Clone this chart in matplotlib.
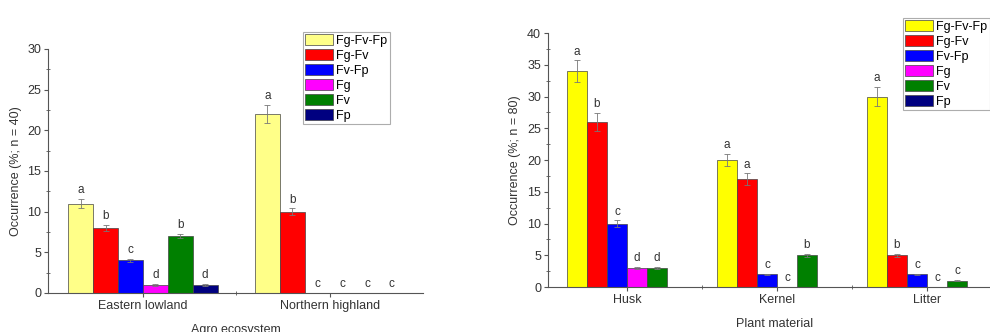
import matplotlib
matplotlib.use("Agg")
import matplotlib.pyplot as plt
import numpy as np
from matplotlib.ticker import MultipleLocator, FixedLocator

plt.rcParams['font.family'] = ['Liberation Sans', 'DejaVu Sans']

series = ['Fg-Fv-Fp', 'Fg-Fv', 'Fv-Fp', 'Fg', 'Fv', 'Fp']

# left panel: agro ecosystem (n = 40)
eco_groups = ['Eastern lowland', 'Northern highland']
eco_vals = [[11, 22], [8, 10], [4, 0], [1, 0], [7, 0], [1, 0]]
eco_err = [[0.6, 1.1], [0.4, 0.4], [0.15, 0], [0.1, 0], [0.3, 0], [0.1, 0]]
eco_letters = [['a', 'a'], ['b', 'b'], ['c', 'c'], ['d', 'c'], ['b', 'c'], ['d', 'c']]
eco_colors = ['#FFFF88', '#FF0000', '#0000FF', '#FF00FF', '#008000', '#000080']

# right panel: plant material (n = 80)
mat_groups = ['Husk', 'Kernel', 'Litter']
mat_vals = [[34, 20, 30], [26, 17, 5], [10, 2, 2], [3, 0, 0], [3, 5, 1], [0, 0, 0]]
mat_err = [[1.7, 1.0, 1.5], [1.4, 0.9, 0.2], [0.5, 0.1, 0.1], [0.2, 0, 0], [0.2, 0.2, 0.1], [0, 0, 0]]
mat_letters = [['a', 'a', 'a'], ['b', 'a', 'b'], ['c', 'c', 'c'], ['d', 'c', 'c'], ['d', 'b', 'c'], ['', '', '']]
mat_colors = ['#FFFF00', '#FF0000', '#0000FF', '#FF00FF', '#008000', '#000080']

FS = 9

fig = plt.figure(figsize=(9.9, 3.32), dpi=100)
ax1 = fig.add_axes([0.0485, 0.1175, 0.3788, 0.735])
ax2 = fig.add_axes([0.5535, 0.1355, 0.4586, 0.765])


def grouped(ax, groups, vals, errs, letters, colors, ymax, ylabel, xlabel):
    n = len(vals)
    x = np.arange(len(groups))
    w = 0.8 / n
    for i in range(n):
        pos = x + (i - (n - 1) / 2) * w
        ax.bar(pos, vals[i], w, color=colors[i], edgecolor='#444444', linewidth=0.5,
               label=series[i], zorder=2)
        v = np.array(vals[i])
        e = np.array(errs[i])
        m = e > 0
        ax.errorbar(pos[m], v[m], yerr=e[m], fmt='none', ecolor='#777777',
                    elinewidth=0.6, capsize=2, capthick=0.6, zorder=3)
        for p, val, er, lt in zip(pos, v, e, letters[i]):
            ax.annotate(lt, (p, val + er), xytext=(0, 2), textcoords='offset points',
                        ha='center', va='bottom', fontsize=FS - 0.5, color='#333333')
    ax.set_ylim(0, ymax)
    ax.set_xticks(x)
    ax.set_xticklabels(groups, fontsize=FS, color='#333333')
    ax.xaxis.set_minor_locator(FixedLocator(x[:-1] + 0.5))
    ax.yaxis.set_major_locator(MultipleLocator(5))
    ax.yaxis.set_minor_locator(MultipleLocator(2.5))
    ax.tick_params(axis='both', which='major', direction='out', length=3,
                   color='#555555', labelsize=FS, labelcolor='#333333', pad=2)
    ax.tick_params(axis='both', which='minor', direction='inout', length=3, color='#555555')
    for s in ['top', 'right']:
        ax.spines[s].set_visible(False)
    for s in ['left', 'bottom']:
        ax.spines[s].set_color('#555555')
        ax.spines[s].set_linewidth(0.8)
    ax.set_ylabel(ylabel, fontsize=FS, color='#333333')
    ax.set_xlabel(xlabel, fontsize=FS, color='#333333', labelpad=9)


grouped(ax1, eco_groups, eco_vals, eco_err, eco_letters, eco_colors, 30,
        'Occurrence (%; n = 40)', 'Agro ecosystem')
ax1.set_xlim(-0.508, 1.5)
grouped(ax2, mat_groups, mat_vals, mat_err, mat_letters, mat_colors, 40,
        'Occurrence (%; n = 80)', 'Plant material')
ax2.set_xlim(-0.527, 2.5)

for ax, anchor in [(ax1, (0.306, 0.904)), (ax2, (0.912, 0.946))]:
    h, l = ax.get_legend_handles_labels()
    leg = fig.legend(h, l, loc='upper left', bbox_to_anchor=anchor, fontsize=FS,
                     frameon=True, fancybox=False, edgecolor='#999999',
                     labelspacing=0.18, handlelength=2.2, handleheight=0.95,
                     handletextpad=0.25, borderpad=0.2, borderaxespad=0)
    leg.get_frame().set_linewidth(0.8)

fig.savefig('out.png', dpi=100)
